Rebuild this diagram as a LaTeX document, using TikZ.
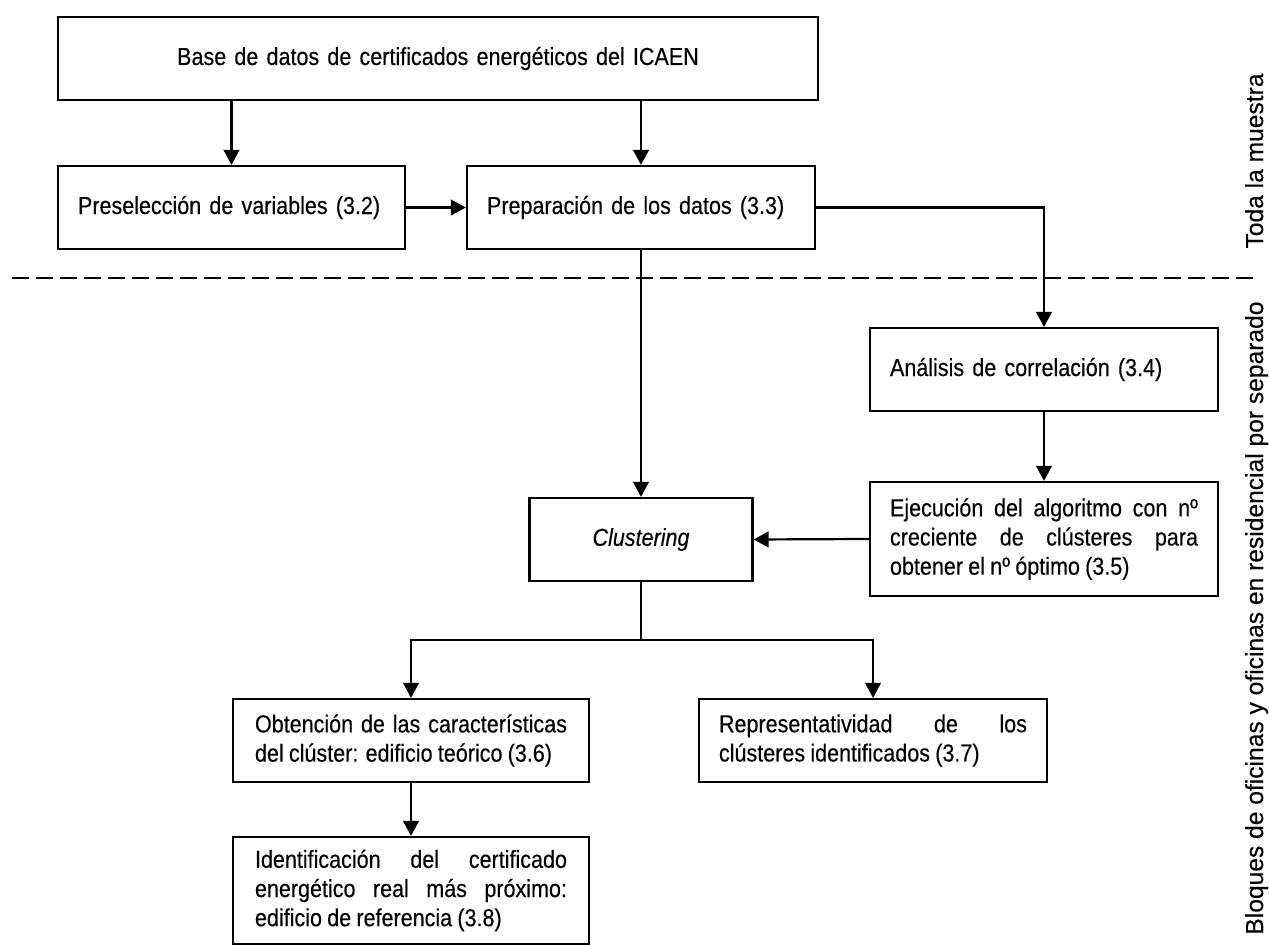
\documentclass[tikz,border=0pt]{standalone}
\usepackage{fontspec}
\setmainfont{Liberation Sans}[FakeStretch=0.875,FakeBold=0.3,WordSpace=0.88]
\newfontfamily\sidefont{Liberation Sans}[FakeBold=0.3]
\usetikzlibrary{arrows.meta}
\newcommand\fsz{\fontsize{12.3pt}{14.6pt}\selectfont\hyphenpenalty=10000 \exhyphenpenalty=10000 }
\newcommand\sfz{\sidefont\fontsize{12.3pt}{14.6pt}\selectfont}
\begin{document}
\begin{tikzpicture}[x=0.5pt,y=-0.5pt,
  box/.style={draw,line width=1.1pt,rectangle,inner ysep=0pt,inner xsep=10pt,font=\fsz,anchor=center,minimum height=41.5pt},
  arr/.style={line width=1.1pt,-{Triangle[length=7.5pt,width=7.8pt]}},
  ln/.style={line width=1.1pt},
  sep/.style={line width=1.1pt,dash pattern=on 8.5pt off 3.5pt},
  side/.style={font=\sfz,rotate=90,anchor=base,inner sep=0pt}]
\useasboundingbox (0,0) rectangle (1269,945);

\node[box,text width=360pt,align=center] (top) at (438,58.5) {Base de datos de certificados energéticos del ICAEN};
\node[box,text width=153.5pt,align=left] (pre) at (231.5,207.5) {Preselección de variables (3.2)};
\node[box,text width=154pt,align=left] (prep) at (641,207.5) {Preparación de los datos (3.3)};
\node[box,text width=154pt,align=left] (ana) at (1044,369.5) {Análisis de correlación (3.4)};
\node[box,text width=154pt,align=justify,minimum height=57pt] (eje) at (1044,539) {Ejecución del algoritmo con nº\linebreak creciente de clústeres para\linebreak obtener el nº óptimo (3.5)};
\node[box,minimum width=111.5pt] (clu) at (641,539.5) {\textit{Clustering}};
\node[box,inner xsep=11pt,text width=156pt,align=justify] (obt) at (411,740.5) {Obtención de las características\linebreak del clúster: edificio teórico (3.6)};
\node[box,text width=154pt,align=justify] (rep) at (873,740.5) {Representatividad de los\linebreak clústeres identificados (3.7)};
\node[box,inner xsep=11pt,text width=156pt,align=justify,minimum height=53.5pt] (ide) at (411,890.5) {Identificación del certificado\linebreak energético real más próximo:\linebreak edificio de referencia (3.8)};

\node[side] (lab1) at (1263,161) {Toda la muestra};
\node[side] (lab2) at (1263,618) {Bloques de oficinas y oficinas en residencial por separado};

\coordinate (dl) at (12,278);
\coordinate (dr) at (1258,278);
\draw[sep] (dl) -- (dr);

\draw[arr] (top.south -| pre.north) -- (pre.north);
\draw[arr] (top.south -| prep.north) -- (prep.north);
\draw[arr] (pre.east) -- (prep.west);
\draw[arr] (prep.east) -| (ana.north);
\draw[arr] (ana.south) -- (eje.north);
\draw[arr] (prep.south) -- (clu.north);
\draw[arr] (eje.west) -- (clu.east);
\coordinate (br) at (641,640);
\draw[ln] (clu.south) -- (br);
\draw[arr] (br) -| (obt.north);
\draw[arr] (br) -| (rep.north);
\draw[arr] (obt.south) -- (ide.north);
\end{tikzpicture}
\end{document}
